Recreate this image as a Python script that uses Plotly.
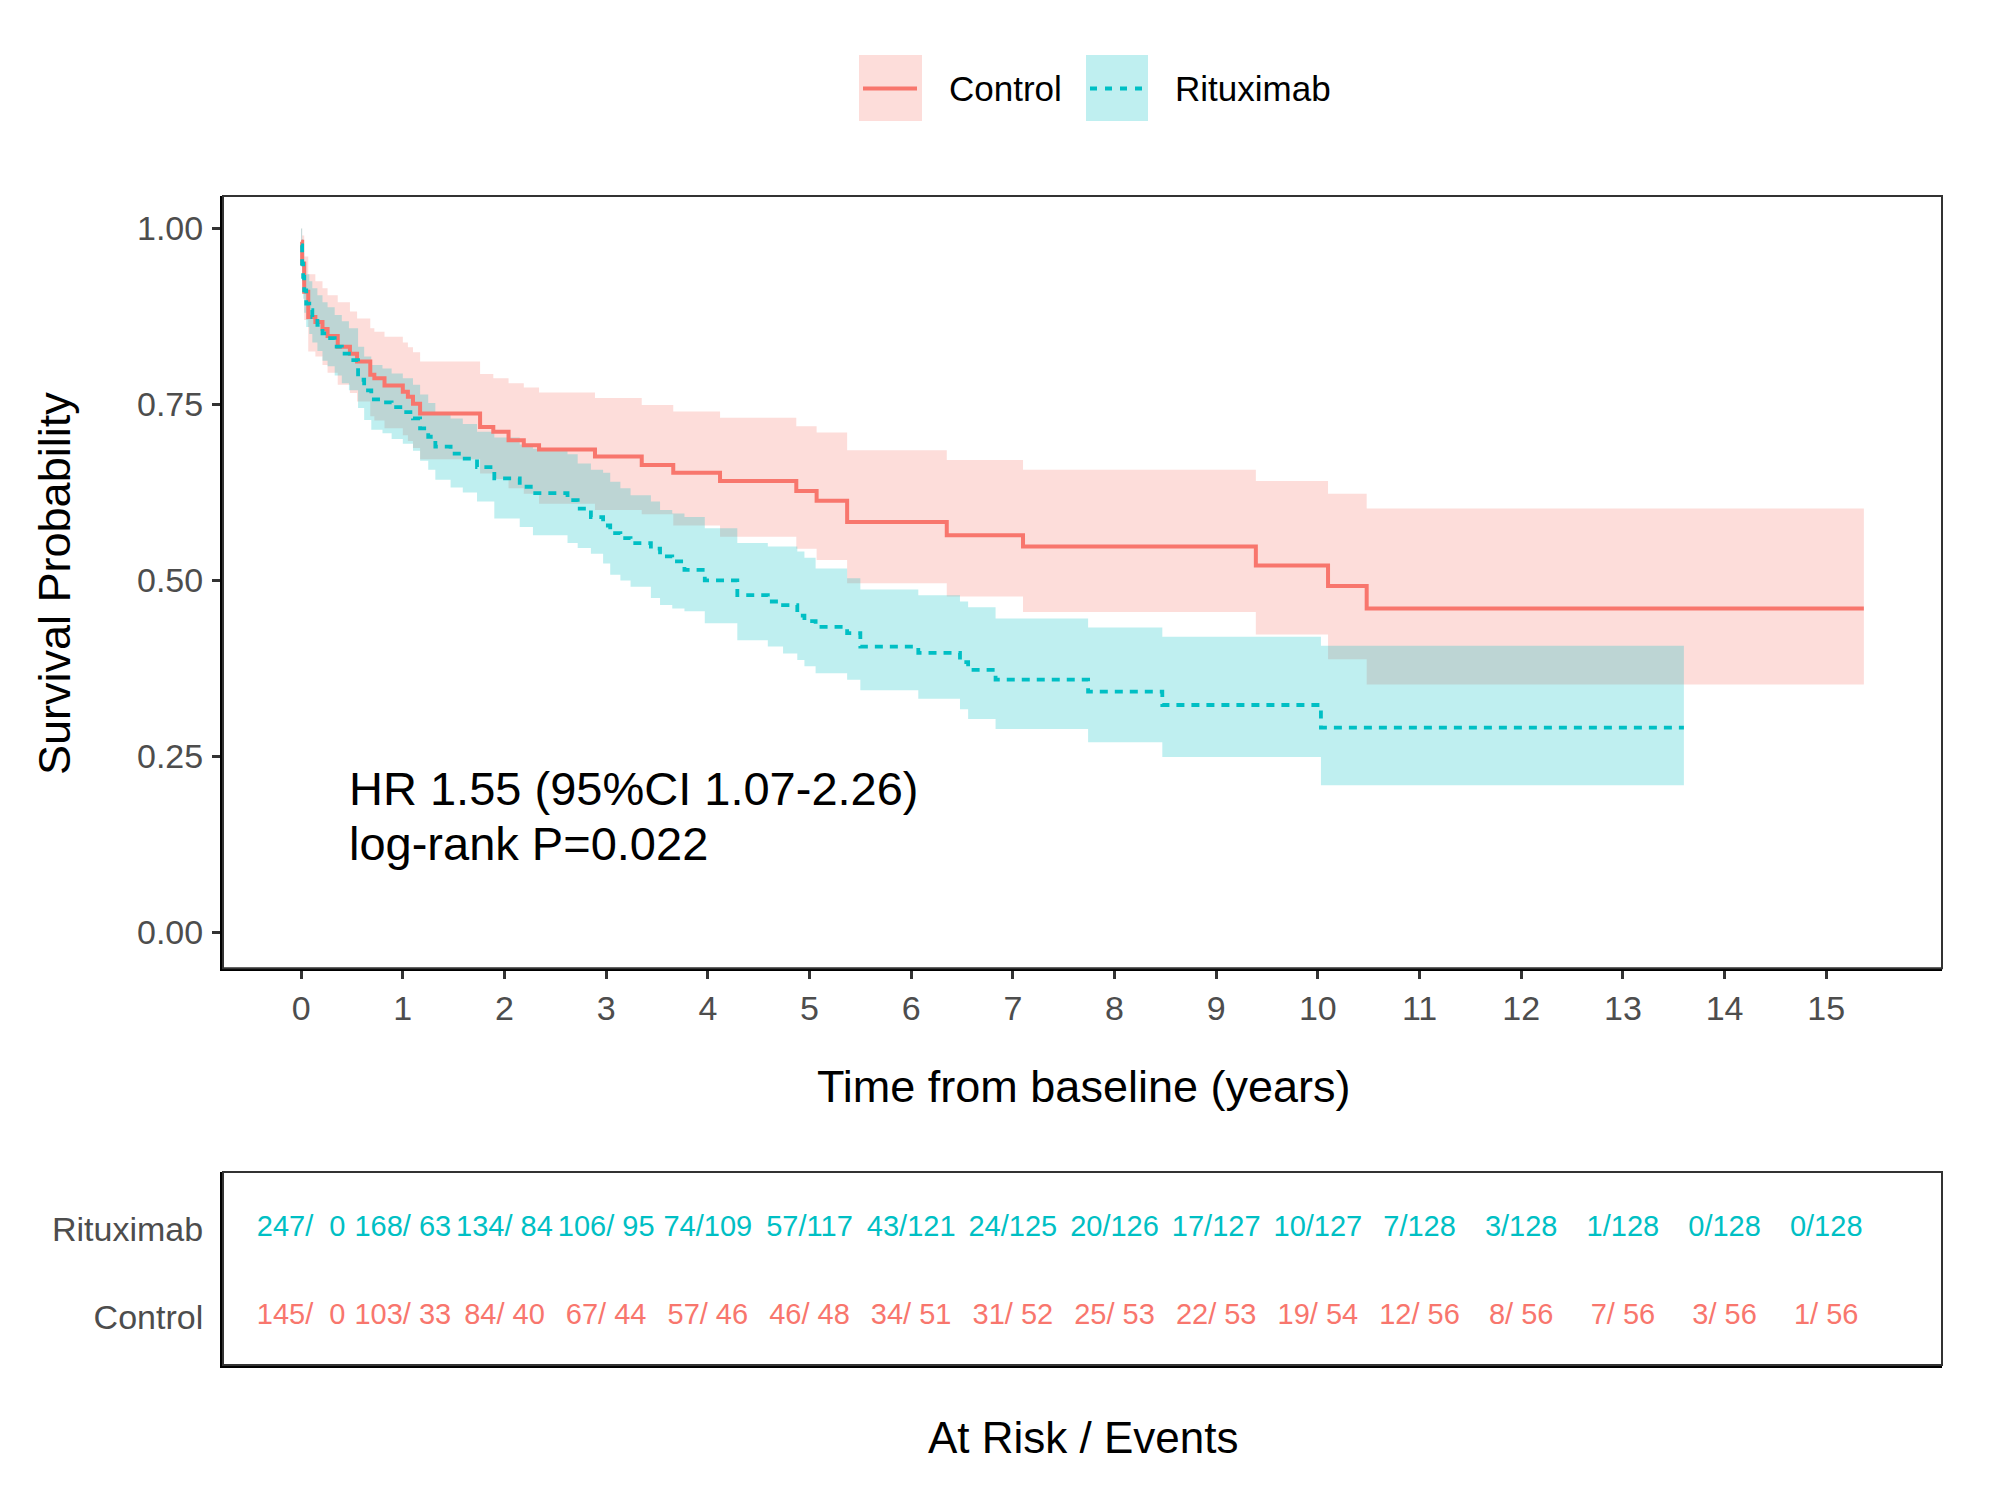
import plotly.graph_objects as go

# ---------------- data ----------------
time_ctrl = [0, 0.01, 0.03, 0.07, 0.14, 0.21, 0.26, 0.36, 0.48, 0.55, 0.68, 0.72, 0.82, 1.00, 1.05,
             1.10, 1.17, 1.76, 1.89, 2.04, 2.19, 2.34, 2.89, 3.35, 3.66, 4.12, 4.87, 5.07, 5.37, 6.35,
             7.10, 9.39, 10.10, 10.48, 15.37]
surv_ctrl = [0.981, 0.950, 0.910, 0.874, 0.867, 0.857, 0.847, 0.832, 0.822, 0.811, 0.792, 0.787, 0.777,
             0.768, 0.761, 0.751, 0.737, 0.718, 0.711, 0.699, 0.692, 0.686, 0.676, 0.664, 0.653, 0.641,
             0.627, 0.613, 0.583, 0.564, 0.548, 0.521, 0.492, 0.460, 0.460]
upper_ctrl = [1.000, 0.990, 0.960, 0.935, 0.925, 0.915, 0.905, 0.895, 0.882, 0.872, 0.858, 0.853, 0.846,
              0.838, 0.831, 0.824, 0.811, 0.793, 0.787, 0.780, 0.774, 0.767, 0.759, 0.749, 0.740, 0.731,
              0.719, 0.710, 0.685, 0.671, 0.657, 0.641, 0.623, 0.602, 0.602]
lower_ctrl = [0.960, 0.920, 0.870, 0.825, 0.818, 0.806, 0.795, 0.778, 0.766, 0.754, 0.733, 0.727, 0.716,
              0.706, 0.698, 0.688, 0.672, 0.652, 0.644, 0.631, 0.623, 0.609, 0.600, 0.594, 0.578, 0.562,
              0.545, 0.529, 0.496, 0.477, 0.455, 0.423, 0.388, 0.352, 0.352]

time_rtx = [0, 0.01, 0.02, 0.03, 0.05, 0.08, 0.11, 0.16, 0.21, 0.26, 0.33, 0.40, 0.47, 0.56, 0.62,
            0.69, 0.80, 0.89, 1.00, 1.10, 1.17, 1.25, 1.32, 1.47, 1.59, 1.73, 1.90, 2.15, 2.28, 2.62,
            2.72, 2.85, 2.97, 3.04, 3.14, 3.24, 3.44, 3.53, 3.65, 3.77, 3.97, 4.29, 4.59, 4.74, 4.88,
            4.95, 5.06, 5.37, 5.50, 6.07, 6.48, 6.56, 6.83, 7.74, 8.47, 10.03, 13.60]
surv_rtx = [0.976, 0.950, 0.931, 0.912, 0.893, 0.884, 0.874, 0.863, 0.851, 0.844,
            0.832, 0.822, 0.813, 0.785, 0.770, 0.757, 0.753, 0.746, 0.739, 0.730,
            0.716, 0.704, 0.690, 0.680, 0.673, 0.661, 0.645, 0.633, 0.624, 0.614,
            0.602, 0.590, 0.578, 0.567, 0.560, 0.553, 0.545, 0.534, 0.527, 0.515,
            0.500, 0.479, 0.470, 0.465, 0.450, 0.442, 0.434, 0.425, 0.406, 0.397,
            0.384, 0.373, 0.359, 0.342, 0.323, 0.291, 0.291]
upper_rtx = [1.000, 0.985, 0.965, 0.950, 0.935, 0.925, 0.915, 0.905, 0.895, 0.888,
             0.877, 0.868, 0.858, 0.832, 0.818, 0.806, 0.801, 0.794, 0.787, 0.778,
             0.764, 0.752, 0.739, 0.730, 0.722, 0.711, 0.703, 0.693, 0.687, 0.679,
             0.666, 0.657, 0.653, 0.640, 0.631, 0.621, 0.612, 0.600, 0.595, 0.590,
             0.574, 0.553, 0.548, 0.548, 0.541, 0.532, 0.517, 0.503, 0.487, 0.479,
             0.470, 0.462, 0.446, 0.433, 0.420, 0.407, 0.407]
lower_rtx = [0.955, 0.925, 0.900, 0.880, 0.860, 0.850, 0.838, 0.826, 0.812, 0.804,
             0.791, 0.780, 0.770, 0.745, 0.728, 0.714, 0.709, 0.701, 0.694, 0.684,
             0.670, 0.657, 0.643, 0.632, 0.625, 0.612, 0.588, 0.576, 0.564, 0.553,
             0.546, 0.538, 0.524, 0.508, 0.500, 0.491, 0.475, 0.465, 0.460, 0.456,
             0.439, 0.415, 0.406, 0.396, 0.387, 0.378, 0.368, 0.359, 0.344, 0.332,
             0.317, 0.303, 0.289, 0.270, 0.249, 0.209, 0.209]

risk_times = list(range(16))
rtx_at_risk = [247, 168, 134, 106, 74, 57, 43, 24, 20, 17, 10, 7, 3, 1, 0, 0]
rtx_events = [0, 63, 84, 95, 109, 117, 121, 125, 126, 127, 127, 128, 128, 128, 128, 128]
ctrl_at_risk = [145, 103, 84, 67, 57, 46, 34, 31, 25, 22, 19, 12, 8, 7, 3, 1]
ctrl_events = [0, 33, 40, 44, 46, 48, 51, 52, 53, 53, 54, 56, 56, 56, 56, 56]

y_ticks = [0, 0.25, 0.5, 0.75, 1.0]
y_ticktext = ["0.00", "0.25", "0.50", "0.75", "1.00"]
table_rows = ["Control", "Rituximab"]

# ---------------- styling ----------------
RED = "#F8766D"
TEAL = "#00BFC4"
RED_FILL = "rgba(248,118,109,0.25)"
TEAL_FILL = "rgba(0,191,196,0.25)"
FONT = "Liberation Sans, Arial, sans-serif"
GREY30 = "#4D4D4D"
W, H = 2000, 1494

fig = go.Figure()


def add_band(t, lo, up, fillcolor):
    fig.add_trace(go.Scatter(x=t, y=lo, mode="lines", line=dict(width=0, shape="hv"),
                             showlegend=False, hoverinfo="skip"))
    fig.add_trace(go.Scatter(x=t, y=up, mode="lines", line=dict(width=0, shape="hv"),
                             fill="tonexty", fillcolor=fillcolor, showlegend=False, hoverinfo="skip"))


add_band(time_ctrl, lower_ctrl, upper_ctrl, RED_FILL)
add_band(time_rtx, lower_rtx, upper_rtx, TEAL_FILL)

fig.add_trace(go.Scatter(x=time_ctrl, y=surv_ctrl, mode="lines", name="Control",
                         line=dict(color=RED, width=4, shape="hv"), showlegend=False))
fig.add_trace(go.Scatter(x=time_rtx, y=surv_rtx, mode="lines", name="Rituximab",
                         line=dict(color=TEAL, width=3.8, shape="hv", dash="8px,7px"),
                         showlegend=False))


def fmt(n, e):
    return (f"{n}/{e:>3}").replace(" ", "\u00a0")


fig.add_trace(go.Scatter(x=risk_times, y=[2] * len(risk_times), mode="text",
                         text=[fmt(n, e) for n, e in zip(rtx_at_risk, rtx_events)],
                         textfont=dict(family=FONT, size=29, color=TEAL),
                         xaxis="x2", yaxis="y2", showlegend=False, hoverinfo="skip"))
fig.add_trace(go.Scatter(x=risk_times, y=[1] * len(risk_times), mode="text",
                         text=[fmt(n, e) for n, e in zip(ctrl_at_risk, ctrl_events)],
                         textfont=dict(family=FONT, size=29, color=RED),
                         xaxis="x2", yaxis="y2", showlegend=False, hoverinfo="skip"))

x_dom = [223 / W, 1942 / W]
x_rng = [-0.7685, 16.1385]
axis_common = dict(showgrid=False, zeroline=False, showline=True, linecolor="black", linewidth=3,
                   tickfont=dict(family=FONT, size=34, color=GREY30))

fig.update_layout(
    width=W, height=H, margin=dict(l=0, r=0, t=0, b=0),
    paper_bgcolor="white", plot_bgcolor="white",
    font=dict(family=FONT),
    showlegend=False,
    xaxis=dict(domain=x_dom, range=x_rng, tickvals=risk_times, ticks="outside", ticklen=8,
               tickwidth=2.5, tickcolor="#333333", ticklabelstandoff=0, anchor="y", **axis_common),
    yaxis=dict(domain=[1 - 968.3 / H, 1 - 196 / H], range=[-0.051, 1.046], tickvals=y_ticks,
               ticktext=y_ticktext, ticks="outside", ticklen=8, tickwidth=2.5, tickcolor="#333333",
               ticklabelstandoff=2, anchor="x", **axis_common),
    xaxis2=dict(domain=x_dom, range=x_rng, showticklabels=False, ticks="", anchor="y2",
                **axis_common),
    yaxis2=dict(domain=[1 - 1365 / H, 1 - 1172 / H], range=[0.45, 2.65], tickvals=[1, 2],
                ticktext=table_rows, ticks="", ticklabelstandoff=10, anchor="x2", **axis_common),
)

shapes = [
    dict(type="rect", xref="x domain", yref="y domain", x0=0, x1=1, y0=0, y1=1,
         line=dict(color="#333333", width=2)),
    dict(type="rect", xref="x2 domain", yref="y2 domain", x0=0, x1=1, y0=0, y1=1,
         line=dict(color="#333333", width=2)),
    # legend keys
    dict(type="rect", xref="paper", yref="paper", x0=859 / W, x1=922 / W, y0=1 - 121 / H,
         y1=1 - 55 / H, fillcolor=RED_FILL, line=dict(width=0)),
    dict(type="line", xref="paper", yref="paper", x0=863 / W, x1=917 / W, y0=1 - 88.5 / H,
         y1=1 - 88.5 / H, line=dict(color=RED, width=4)),
    dict(type="rect", xref="paper", yref="paper", x0=1086 / W, x1=1148 / W, y0=1 - 121 / H,
         y1=1 - 55 / H, fillcolor=TEAL_FILL, line=dict(width=0)),
    dict(type="line", xref="paper", yref="paper", x0=1090 / W, x1=1144 / W, y0=1 - 88.5 / H,
         y1=1 - 88.5 / H, line=dict(color=TEAL, width=3.8, dash="7px,8px")),
]
fig.update_layout(shapes=shapes)

annotations = [
    dict(text="Control", xref="paper", yref="paper", x=947 / W, y=1 - 89 / H, xanchor="left",
         yanchor="middle", showarrow=False, font=dict(family=FONT, size=35, color="black")),
    dict(text="Rituximab", xref="paper", yref="paper", x=1173 / W, y=1 - 89 / H, xanchor="left",
         yanchor="middle", showarrow=False, font=dict(family=FONT, size=35, color="black")),
    dict(text="Survival Probability", xref="paper", yref="paper", x=54 / W, y=1 - 584 / H,
         textangle=-90, xanchor="center", yanchor="middle", showarrow=False,
         font=dict(family=FONT, size=45, color="black")),
    dict(text="Time from baseline (years)", xref="paper", yref="paper", x=1083 / W, y=1 - 1086 / H,
         xanchor="center", yanchor="middle", showarrow=False,
         font=dict(family=FONT, size=45, color="black")),
    dict(text="At Risk / Events", xref="paper", yref="paper", x=1083 / W, y=1 - 1437 / H,
         xanchor="center", yanchor="middle", showarrow=False,
         font=dict(family=FONT, size=44, color="black")),
    dict(text="HR 1.55 (95%CI 1.07-2.26)", xref="x", yref="y", x=0.447, y=0.204,
         xanchor="left", yanchor="middle", showarrow=False,
         font=dict(family=FONT, size=47, color="black")),
    dict(text="log-rank P=0.022", xref="x", yref="y", x=0.447, y=0.126,
         xanchor="left", yanchor="middle", showarrow=False,
         font=dict(family=FONT, size=47, color="black")),
]
fig.update_layout(annotations=annotations)

fig.write_html("out.html", post_script="document.body.style.margin='0';",
               config={"displayModeBar": False})
